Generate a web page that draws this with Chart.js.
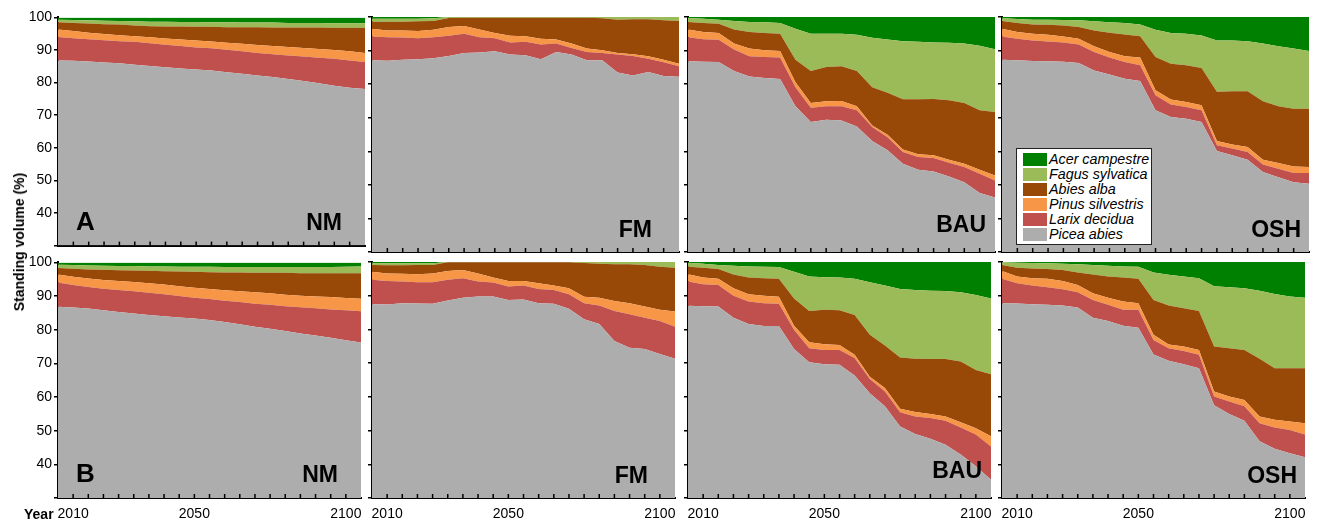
<!DOCTYPE html>
<html>
<head>
<meta charset="utf-8" />
<title>Standing volume by species</title>
<script src="https://cdn.jsdelivr.net/npm/chart.js@4.4.1/dist/chart.umd.min.js"></script>
<style>
  html, body { margin: 0; padding: 0; background: #fff; overflow: hidden; }
  body { font-family: "Liberation Sans", Arial, sans-serif; color: #000; }
  #page { position: relative; width: 1325px; height: 522px; }
  #page canvas { position: absolute; }
  .ytitle { position: absolute; left: 19px; top: 242px; font-weight: bold; font-size: 14px;
            white-space: nowrap; transform: translate(-50%, -50%) rotate(-90deg); }
  .xtitle { position: absolute; left: 24px; top: 506px; font-weight: bold; font-size: 14px; }
  #legend { position: absolute; left: 1016px; top: 148px; width: 134px; height: 93px;
            border: 1px solid #222; background: #fff; padding-top: 2px; box-sizing: content-box; z-index: 5; }
  #legend div { height: 15px; line-height: 15px; white-space: nowrap; padding-left: 6px; }
  #legend span.sw { display: inline-block; width: 24px; height: 13px; vertical-align: -2px; margin-right: 2px; }
  #legend span.tx { font-style: italic; font-size: 14.3px; }
</style>
</head>
<body>
<div id="page">
  <div class="ytitle">Standing volume (%)</div>
  <div class="xtitle">Year</div>
  <div id="legend"></div>
</div>
<script>
// years of the simulation steps (5-year periods)
const years = [2005, 2010, 2015, 2020, 2025, 2030, 2035, 2040, 2045, 2050, 2055,
               2060, 2065, 2070, 2075, 2080, 2085, 2090, 2095, 2100, 2105];
const xTickLabels = [2010, 2050, 2100];
const yTickLabels = [40, 50, 60, 70, 80, 90, 100];

// bottom to top of the stack
const species = ['Picea abies', 'Larix decidua', 'Pinus silvestris', 'Abies alba', 'Fagus sylvatica', 'Acer campestre'];
const speciesColors = ['#adadad', '#c0504d', '#f79646', '#984807', '#9bbb59', '#008000'];
const TOTAL = 100;

// upper edge (cumulative %) of each layer; Acer fills up to 100
// row A
const aNM_picea = [86.8, 86.7, 86.5, 86.2, 85.9, 85.5, 85.1, 84.7, 84.3, 84.0, 83.7, 83.2, 82.7, 82.2, 81.7, 81.1, 80.5, 79.8, 79.0, 78.4, 78.0];
const aNM_larix = [94.0, 93.6, 93.3, 93.0, 92.7, 92.5, 92.1, 91.6, 91.2, 90.8, 90.5, 90.1, 89.6, 89.1, 88.7, 88.3, 88.0, 87.6, 87.3, 86.8, 86.3];
const aNM_pinus = [96.3, 95.8, 95.3, 94.9, 94.5, 94.2, 93.9, 93.5, 93.2, 92.9, 92.6, 92.2, 91.9, 91.5, 91.2, 90.9, 90.6, 90.3, 90.0, 89.6, 89.1];
const aNM_abies = [98.5, 98.3, 98.1, 97.9, 97.8, 97.5, 97.3, 97.2, 97.2, 97.1, 97.1, 97.0, 97.0, 97.0, 96.9, 96.9, 96.9, 96.9, 96.8, 96.8, 96.8];
const aNM_fagus = [99.3, 99.2, 99.1, 99.0, 98.9, 98.8, 98.7, 98.7, 98.6, 98.6, 98.5, 98.5, 98.4, 98.4, 98.4, 98.3, 98.3, 98.3, 98.2, 98.2, 98.2];

const aFM_picea = [87.1, 87.0, 87.3, 87.4, 87.7, 88.4, 89.3, 89.4, 89.8, 88.8, 88.6, 87.4, 89.6, 88.8, 87.1, 87.1, 83.5, 82.6, 83.6, 82.4, 82.2];
const aFM_larix = [94.2, 94.0, 93.9, 93.7, 94.0, 94.4, 95.0, 94.0, 93.7, 92.4, 92.6, 91.8, 92.1, 90.8, 89.6, 89.3, 88.8, 88.4, 87.6, 86.5, 85.3];
const aFM_pinus = [96.5, 96.0, 96.0, 95.8, 96.2, 97.0, 97.3, 96.3, 95.2, 94.4, 94.3, 93.5, 93.3, 92.1, 90.6, 90.1, 89.3, 88.9, 88.3, 87.3, 86.1];
const aFM_abies = [98.6, 98.6, 98.6, 98.7, 98.8, 99.7, 99.8, 99.8, 99.8, 99.8, 99.8, 99.8, 99.8, 99.8, 99.8, 99.6, 99.2, 99.3, 99.3, 99.0, 98.8];
const aFM_fagus = [99.5, 99.5, 99.5, 99.5, 99.6, 100, 100, 100, 100, 100, 100, 100, 100, 100, 100, 100, 100, 100, 100, 100, 100];

const aBAU_picea = [86.8, 86.7, 86.6, 83.9, 82.3, 81.8, 81.5, 73.4, 68.7, 69.4, 69.2, 67.4, 63.1, 60.3, 56.3, 54.5, 54.0, 52.5, 50.8, 47.6, 46.2];
const aBAU_larix = [94.0, 93.4, 93.2, 90.3, 88.3, 88.1, 87.9, 79.1, 73.0, 73.4, 73.4, 72.2, 67.2, 64.2, 59.8, 58.3, 58.0, 56.6, 55.3, 53.3, 51.3];
const aBAU_pinus = [96.3, 95.5, 95.2, 92.1, 90.6, 90.1, 89.9, 80.6, 74.4, 74.9, 75.0, 73.4, 67.7, 64.9, 60.5, 59.1, 58.8, 57.5, 56.3, 54.5, 52.8];
const aBAU_abies = [98.5, 98.2, 98.0, 96.3, 95.5, 95.2, 95.0, 87.3, 83.9, 85.1, 85.3, 83.9, 79.1, 77.4, 75.5, 75.5, 75.6, 75.2, 74.4, 72.2, 71.7];
const aBAU_fagus = [99.7, 99.5, 99.2, 98.8, 98.5, 98.4, 98.2, 96.5, 95.0, 95.0, 95.0, 94.7, 93.8, 93.3, 92.8, 92.6, 92.4, 92.3, 92.1, 91.4, 90.4];

const aOSH_picea = [87.3, 87.1, 86.9, 86.8, 86.7, 86.3, 84.1, 82.9, 81.6, 80.9, 72.2, 70.2, 69.7, 68.7, 60.1, 58.8, 57.5, 53.8, 52.3, 50.8, 50.3];
const aOSH_larix = [94.2, 93.5, 93.0, 92.7, 92.4, 91.8, 89.6, 87.9, 86.6, 85.6, 76.7, 73.9, 73.2, 72.2, 61.8, 60.8, 59.8, 56.1, 54.8, 53.5, 53.5];
const aOSH_pinus = [96.5, 95.5, 95.0, 94.7, 94.2, 93.5, 91.3, 89.6, 88.3, 87.9, 78.2, 75.4, 74.7, 73.7, 63.1, 62.0, 61.3, 57.5, 56.5, 55.5, 55.3];
const aOSH_abies = [98.8, 98.2, 97.8, 97.7, 97.5, 97.0, 96.0, 95.3, 94.8, 94.3, 88.1, 86.1, 85.6, 84.8, 77.7, 77.9, 77.9, 74.9, 73.4, 72.7, 72.7];
const aOSH_fagus = [99.6, 99.4, 99.2, 99.2, 99.1, 99.0, 98.7, 98.4, 98.2, 97.8, 96.2, 95.2, 95.0, 94.5, 93.0, 93.0, 92.8, 92.1, 91.3, 90.6, 89.9];

// row B
const bNM_picea = [86.8, 86.6, 86.3, 85.8, 85.3, 84.8, 84.4, 84.0, 83.6, 83.3, 82.9, 82.3, 81.6, 80.9, 80.3, 79.6, 78.9, 78.3, 77.6, 76.9, 76.2];
const bNM_larix = [94.0, 93.3, 92.7, 92.2, 91.8, 91.4, 91.0, 90.5, 90.0, 89.5, 89.1, 88.6, 88.2, 87.7, 87.4, 87.0, 86.7, 86.4, 86.0, 85.8, 85.5];
const bNM_pinus = [96.4, 95.7, 95.2, 94.8, 94.5, 94.2, 93.8, 93.4, 92.9, 92.5, 92.1, 91.7, 91.4, 91.1, 90.8, 90.4, 90.1, 89.9, 89.7, 89.4, 89.2];
const bNM_abies = [98.3, 98.1, 97.9, 97.8, 97.7, 97.6, 97.5, 97.4, 97.3, 97.2, 97.1, 97.0, 97.0, 96.9, 96.9, 96.9, 96.8, 96.8, 96.8, 96.8, 96.8];
const bNM_fagus = [99.3, 99.2, 99.1, 99.0, 98.9, 98.9, 98.8, 98.8, 98.7, 98.7, 98.7, 98.6, 98.6, 98.6, 98.6, 98.6, 98.6, 98.6, 98.6, 98.7, 98.8];

const bFM_picea = [87.5, 87.4, 87.8, 87.7, 87.6, 88.6, 89.4, 89.8, 89.8, 88.7, 88.9, 87.8, 87.6, 86.1, 83.0, 81.6, 76.6, 74.6, 74.2, 72.7, 71.3];
const bFM_larix = [94.7, 94.4, 94.2, 94.0, 94.0, 94.7, 95.2, 94.2, 93.9, 92.7, 93.0, 92.0, 91.7, 90.4, 87.8, 87.1, 85.5, 84.5, 83.5, 82.5, 80.8];
const bFM_pinus = [97.1, 96.6, 96.5, 96.4, 96.6, 97.3, 97.6, 96.6, 95.4, 94.4, 94.4, 93.7, 93.0, 92.2, 89.7, 89.4, 88.4, 87.8, 86.8, 85.8, 85.3];
const bFM_abies = [99.1, 99.0, 99.0, 99.1, 99.1, 99.9, 99.9, 99.9, 99.9, 99.9, 99.9, 99.9, 99.9, 99.9, 99.7, 99.5, 99.3, 99.3, 99.1, 98.6, 98.3];
const bFM_fagus = [99.6, 99.6, 99.6, 99.6, 99.6, 100, 100, 100, 100, 100, 100, 100, 100, 100, 100, 100, 100, 100, 100, 100, 100];

const bBAU_picea = [87.0, 86.9, 86.8, 83.5, 81.6, 81.0, 81.0, 74.2, 70.3, 69.7, 69.5, 66.3, 61.1, 57.2, 51.2, 49.0, 47.6, 45.8, 42.9, 39.4, 35.4];
const bBAU_larix = [94.2, 93.4, 93.2, 90.0, 88.3, 87.8, 87.6, 79.9, 74.4, 73.9, 73.9, 71.5, 65.3, 61.6, 55.4, 54.2, 53.7, 52.9, 50.9, 48.8, 45.3];
const bBAU_pinus = [96.4, 95.4, 95.0, 92.2, 90.4, 90.0, 89.7, 81.1, 76.2, 75.6, 75.4, 72.5, 66.0, 62.6, 56.5, 55.5, 54.9, 54.2, 52.5, 50.7, 48.3];
const bBAU_abies = [98.6, 98.3, 97.9, 96.3, 95.4, 95.2, 95.0, 89.2, 85.5, 85.8, 85.7, 84.3, 78.4, 75.2, 71.7, 71.3, 71.2, 71.2, 70.5, 68.0, 66.7];
const bBAU_fagus = [99.8, 99.5, 99.1, 98.9, 98.7, 98.6, 98.5, 97.1, 95.7, 95.5, 95.4, 95.0, 94.0, 93.0, 92.0, 91.7, 91.5, 91.4, 91.0, 90.2, 89.2];

const bOSH_picea = [87.8, 87.7, 87.5, 87.3, 87.1, 86.5, 83.5, 82.5, 81.1, 80.5, 72.6, 70.7, 69.7, 68.5, 57.5, 54.9, 52.9, 46.8, 44.6, 43.3, 42.1];
const bOSH_larix = [95.0, 93.7, 93.0, 92.5, 91.9, 91.0, 88.7, 87.3, 85.8, 85.8, 76.9, 74.4, 73.6, 72.5, 60.1, 58.6, 57.2, 52.2, 50.9, 50.2, 48.8];
const bOSH_pinus = [97.3, 95.7, 95.2, 95.0, 94.4, 93.2, 90.7, 89.4, 88.3, 87.8, 78.4, 75.5, 74.9, 73.9, 61.6, 60.1, 59.1, 54.2, 53.2, 52.7, 52.2];
const bOSH_abies = [99.1, 98.3, 98.1, 97.9, 97.6, 96.9, 96.3, 95.7, 95.4, 95.0, 88.7, 87.1, 86.3, 85.5, 74.9, 74.4, 73.9, 71.3, 68.5, 68.5, 68.5];
const bOSH_fagus = [99.9, 99.8, 99.7, 99.6, 99.5, 99.3, 99.1, 98.9, 98.7, 98.6, 96.9, 96.2, 95.7, 95.2, 92.8, 92.5, 92.2, 91.5, 90.5, 89.8, 89.4];

// panel grid (plot area positions on the page)
const colLeft = [58, 372, 688, 1002];
const PLOT_W = 307;
const rowTop = [17, 262];
const rowBottom = [252, 498];
const Y_AXIS_W = 45, PAD_T = 10, PAD_R = 4;
const nameInset = [23, 27, 9, 8];
const nameLift = [16, 15, 20, 15];

const panels = [
  { row: 0, col: 0, letter: 'A', name: 'NM',  edges: [aNM_picea, aNM_larix, aNM_pinus, aNM_abies, aNM_fagus] },
  { row: 0, col: 1, letter: '',  name: 'FM',  edges: [aFM_picea, aFM_larix, aFM_pinus, aFM_abies, aFM_fagus] },
  { row: 0, col: 2, letter: '',  name: 'BAU', edges: [aBAU_picea, aBAU_larix, aBAU_pinus, aBAU_abies, aBAU_fagus] },
  { row: 0, col: 3, letter: '',  name: 'OSH', edges: [aOSH_picea, aOSH_larix, aOSH_pinus, aOSH_abies, aOSH_fagus] },
  { row: 1, col: 0, letter: 'B', name: 'NM',  edges: [bNM_picea, bNM_larix, bNM_pinus, bNM_abies, bNM_fagus] },
  { row: 1, col: 1, letter: '',  name: 'FM',  edges: [bFM_picea, bFM_larix, bFM_pinus, bFM_abies, bFM_fagus] },
  { row: 1, col: 2, letter: '',  name: 'BAU', edges: [bBAU_picea, bBAU_larix, bBAU_pinus, bBAU_abies, bBAU_fagus] },
  { row: 1, col: 3, letter: '',  name: 'OSH', edges: [bOSH_picea, bOSH_larix, bOSH_pinus, bOSH_abies, bOSH_fagus] }
];

// share of each species = its upper edge minus the edge below it
function layerShares(edges) {
  return species.map((sp, k) => years.map((y, i) => {
    const hi = k < edges.length ? edges[k][i] : TOTAL;
    const lo = k > 0 ? edges[k - 1][i] : 0;
    return +(hi - lo).toFixed(2);
  }));
}

const FONT = '"Liberation Sans", Arial, sans-serif';
Chart.defaults.font.family = FONT;
Chart.defaults.color = '#000';

// inward ticks on the x axis + panel letters
const panelDecor = {
  id: 'panelDecor',
  afterDraw(chart, args, opts) {
    const { ctx, chartArea: a, scales } = chart;
    const x = scales.x;
    ctx.save();
    ctx.strokeStyle = '#000';
    ctx.lineWidth = 1.5;
    for (let i = 1; i < years.length - 1; i++) {
      const px = x.getPixelForValue(i);
      ctx.beginPath();
      ctx.moveTo(px, a.bottom);
      ctx.lineTo(px, a.bottom - 4);
      ctx.stroke();
    }
    ctx.fillStyle = '#000';
    ctx.textBaseline = 'alphabetic';
    if (opts.letter) {
      ctx.font = 'bold 26px ' + FONT;
      ctx.textAlign = 'left';
      ctx.fillText(opts.letter, a.left + 18, a.bottom - 16);
    }
    ctx.font = 'bold 23px ' + FONT;
    ctx.textAlign = 'right';
    ctx.fillText(opts.name, a.right - opts.inset, a.bottom - opts.lift);
    ctx.restore();
  }
};

const page = document.getElementById('page');

panels.forEach(p => {
  const plotH = rowBottom[p.row] - rowTop[p.row];
  const xH = p.row === 1 ? 30 : 4;
  const cv = document.createElement('canvas');
  cv.width = Y_AXIS_W + PLOT_W + PAD_R;
  cv.height = PAD_T + plotH + xH;
  cv.style.left = (colLeft[p.col] - Y_AXIS_W) + 'px';
  cv.style.top = (rowTop[p.row] - PAD_T) + 'px';
  page.insertBefore(cv, page.firstChild);

  const shares = layerShares(p.edges);
  const showY = p.col === 0;
  const showX = p.row === 1;

  new Chart(cv, {
    type: 'line',
    data: {
      labels: years,
      datasets: species.map((sp, k) => ({
        label: sp,
        data: shares[k],
        backgroundColor: speciesColors[k],
        borderColor: speciesColors[k],
        borderWidth: 0,
        pointRadius: 0,
        tension: 0,
        fill: k === 0 ? 'start' : '-1'
      }))
    },
    options: {
      responsive: false,
      animation: false,
      events: [],
      layout: { padding: { top: PAD_T, right: PAD_R, left: 0, bottom: 0 } },
      plugins: {
        legend: { display: false },
        tooltip: { enabled: false },
        panelDecor: { letter: p.letter, name: p.name, inset: nameInset[p.col], lift: nameLift[p.col] }
      },
      scales: {
        x: {
          z: 1,
          offset: false,
          grid: { display: false, drawTicks: false },
          border: { display: true, color: '#000', width: 2 },
          ticks: {
            display: showX,
            autoSkip: false,
            maxRotation: 0,
            padding: 8,
            font: { size: 14 },
            callback: (v, i) => xTickLabels.includes(years[i]) ? String(years[i]) : ''
          },
          afterFit: s => { s.height = xH; }
        },
        y: {
          z: 1,
          stacked: true,
          min: 30,
          max: 100,
          grid: { display: true, drawOnChartArea: false, drawTicks: true, tickLength: 4, color: '#000', lineWidth: 1.5 },
          border: { display: true, color: '#000', width: 2 },
          ticks: {
            display: showY,
            stepSize: 10,
            padding: 2,
            font: { size: 14 },
            callback: v => yTickLabels.includes(v) ? String(v) : ''
          },
          afterFit: s => { s.width = Y_AXIS_W; }
        }
      }
    },
    plugins: [panelDecor]
  });
});

// legend in the upper OSH panel, top entry first
const legend = document.getElementById('legend');
species.slice().reverse().forEach((sp, j) => {
  const k = species.length - 1 - j;
  const row = document.createElement('div');
  row.innerHTML = '<span class="sw" style="background:' + speciesColors[k] + '"></span><span class="tx">' + sp + '</span>';
  legend.appendChild(row);
});
</script>
</body>
</html>
